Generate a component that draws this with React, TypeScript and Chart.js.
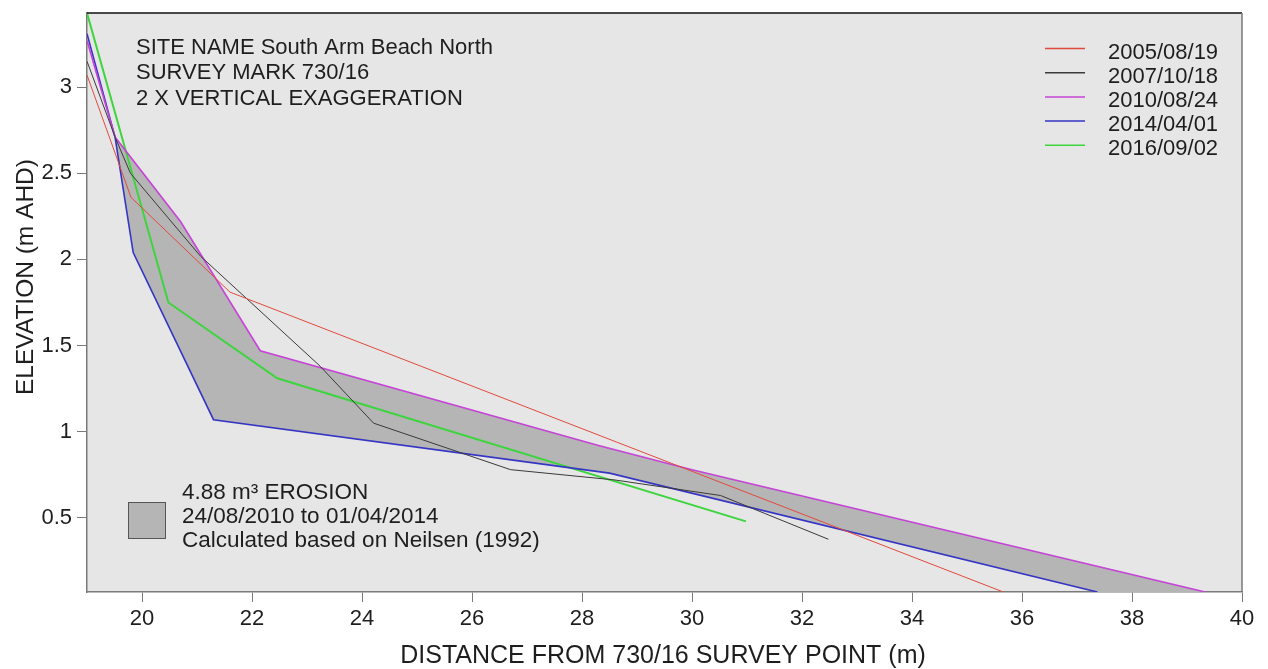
import React, { useEffect, useRef } from "react";
import { Chart, registerables } from "chart.js";
Chart.register(...registerables);

// ---- data ----
const seriesLabels = ["2005/08/19", "2007/10/18", "2010/08/24", "2014/04/01", "2016/09/02"];
const seriesColors = ["#e04a3e", "#3a3a3a", "#c544d6", "#3535c4", "#3ed43e"];
const seriesWidths = [1, 1, 1.6, 1.6, 2];

const redX = [19, 19.8, 21.6, 35.66];
const redY = [3.07, 2.36, 1.81, 0.07];
const blackX = [19, 19.51, 19.79, 21.06, 23.24, 24.21, 26.7, 28.6, 30.52, 32.48];
const blackY = [3.15, 2.71, 2.5, 2.02, 1.38, 1.05, 0.78, 0.72, 0.63, 0.376];
const magentaX = [19, 19.51, 20.7, 22.15, 28.3, 30.0, 39.33];
const magentaY = [3.27, 2.71, 2.22, 1.47, 0.92, 0.78, 0.07];
const blueX = [19, 19.51, 19.84, 21.3, 28.5, 37.37];
const blueY = [3.31, 2.71, 2.04, 1.07, 0.76, 0.07];
const greenX = [19, 20.48, 22.46, 30.98];
const greenY = [3.43, 1.75, 1.31, 0.48];

const xTicks = [20, 22, 24, 26, 28, 30, 32, 34, 36, 38, 40];
const yTicks = [0.5, 1, 1.5, 2, 2.5, 3];
const xMin = 19, xMax = 40, yMin = 0.07, yMax = 3.43;

const infoLines = ["SITE NAME South Arm Beach North", "SURVEY MARK 730/16", "2 X VERTICAL EXAGGERATION"];
const erosionLines = ["4.88 m³ EROSION", "24/08/2010 to 01/04/2014", "Calculated based on Neilsen (1992)"];
const xTitle = "DISTANCE FROM 730/16 SURVEY POINT (m)";
const yTitle = "ELEVATION (m AHD)";

const FONT = "'Liberation Sans', Arial, sans-serif";
const TEXT = "#1e1e1e";
const AXIS = "#7a7a7a";

const toPts = (xs: number[], ys: number[]) => xs.map((x, i) => ({ x, y: ys[i] }));

export default function App() {
  const ref = useRef<HTMLCanvasElement>(null);
  useEffect(() => {
    const canvas = ref.current!;
    const seriesX = [redX, blackX, magentaX, blueX, greenX];
    const seriesY = [redY, blackY, magentaY, blueY, greenY];
    // erosion polygon between 2010 (magenta) and 2014 (blue) profiles
    const mag = toPts(magentaX, magentaY).slice(1);
    const blu = toPts(blueX, blueY).slice(1).reverse();
    const polygon = [...mag, ...blu];

    const datasets: any[] = seriesLabels.map((label, i) => ({
      label,
      data: toPts(seriesX[i], seriesY[i]),
      borderColor: seriesColors[i],
      borderWidth: seriesWidths[i],
      showLine: true,
      pointRadius: 0,
      fill: false,
      clip: 0,
      tension: 0,
    }));
    datasets.push({
      label: "erosion",
      data: polygon,
      showLine: true,
      borderWidth: 0,
      borderColor: "rgba(0,0,0,0)",
      backgroundColor: "#b5b5b5",
      fill: "shape",
      pointRadius: 0,
      clip: 0,
    });

    const decor = {
      id: "decor",
      beforeDraw(chart: any) {
        const { ctx, chartArea: a } = chart;
        ctx.save();
        ctx.fillStyle = "#e6e6e6";
        ctx.fillRect(a.left, a.top, a.right - a.left, a.bottom - a.top);
        ctx.restore();
      },
      afterDraw(chart: any) {
        const { ctx, chartArea: a } = chart;
        ctx.save();
        // frame
        ctx.lineWidth = 1.5;
        ctx.strokeStyle = "#111";
        ctx.beginPath();
        ctx.moveTo(a.left, a.top);
        ctx.lineTo(a.right, a.top);
        ctx.stroke();
        ctx.strokeStyle = AXIS;
        ctx.beginPath();
        ctx.moveTo(a.right, a.top);
        ctx.lineTo(a.right, a.bottom);
        ctx.stroke();

        ctx.fillStyle = TEXT;
        ctx.textBaseline = "alphabetic";
        ctx.textAlign = "left";
        // info text
        ctx.font = `22px ${FONT}`;
        infoLines.forEach((t, i) => ctx.fillText(t, 136, 54 + i * 25.3));

        // legend
        ctx.font = `22px ${FONT}`;
        seriesLabels.forEach((t, i) => {
          const y = 48.5 + i * 24.2;
          ctx.strokeStyle = seriesColors[i];
          ctx.lineWidth = 1.5;
          ctx.beginPath();
          ctx.moveTo(1045, y);
          ctx.lineTo(1085, y);
          ctx.stroke();
          ctx.fillStyle = TEXT;
          ctx.fillText(t, 1108, y + 10);
        });

        // erosion key
        ctx.fillStyle = "#b5b5b5";
        ctx.fillRect(128, 502, 38, 37);
        ctx.strokeStyle = "#555";
        ctx.lineWidth = 1;
        ctx.strokeRect(128.5, 502.5, 37, 36);
        ctx.fillStyle = TEXT;
        ctx.font = `22.5px ${FONT}`;
        erosionLines.forEach((t, i) => ctx.fillText(t, 182, 499 + i * 24));

        // axis titles
        ctx.font = `25px ${FONT}`;
        ctx.textAlign = "center";
        ctx.fillText(xTitle, 663, 663);
        ctx.font = `24.5px ${FONT}`;
        ctx.translate(33, 277);
        ctx.rotate(-Math.PI / 2);
        ctx.fillText(yTitle, 0, 0);
        ctx.restore();
      },
    };

    const chart = new Chart(canvas, {
      type: "scatter",
      data: { datasets },
      options: {
        animation: false,
        responsive: false,
        devicePixelRatio: 1,
        layout: { padding: { top: 13, right: 26, left: 0, bottom: 0 } },
        plugins: { legend: { display: false }, tooltip: { enabled: false } },
        scales: {
          x: {
            type: "linear",
            min: xMin,
            max: xMax,
            afterBuildTicks: (s: any) => { s.ticks = xTicks.map((v) => ({ value: v })); },
            afterFit: (s: any) => { s.height = 77; s.paddingLeft = 0; s.paddingRight = 0; },
            grid: { drawOnChartArea: false, tickLength: 10, color: AXIS, tickColor: AXIS },
            border: { color: AXIS, width: 1.5 },
            ticks: { color: TEXT, font: { size: 22, family: FONT }, padding: 4, maxRotation: 0, callback: (v: any) => String(v) },
          },
          y: {
            type: "linear",
            min: yMin,
            max: yMax,
            afterBuildTicks: (s: any) => { s.ticks = yTicks.map((v) => ({ value: v })); },
            afterFit: (s: any) => { s.width = 87; s.paddingTop = 0; s.paddingBottom = 0; },
            grid: { drawOnChartArea: false, tickLength: 10, color: AXIS, tickColor: AXIS },
            border: { color: AXIS, width: 1.5 },
            ticks: { color: TEXT, font: { size: 22, family: FONT }, padding: 5, callback: (v: any) => String(v) },
          },
        },
      },
      plugins: [decor],
    });
    return () => chart.destroy();
  }, []);

  return (
    <div style={{ position: "fixed", left: 0, top: 0, width: 1268, height: 669, background: "#fff" }}>
      <canvas ref={ref} width={1268} height={669} />
    </div>
  );
}
